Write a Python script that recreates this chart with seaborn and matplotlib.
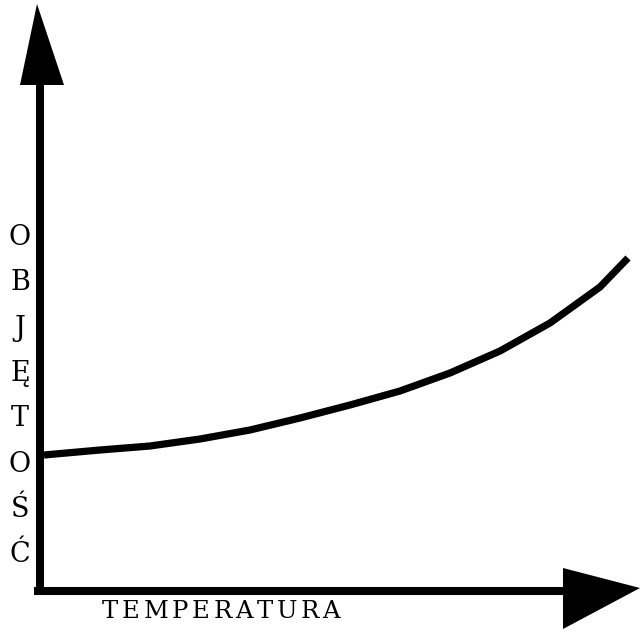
import matplotlib
matplotlib.use("Agg")
import matplotlib.pyplot as plt
import seaborn as sns
import pandas as pd

# Volume grows with temperature (arbitrary units)
temperature = [4, 60, 110, 160, 210, 260, 310, 360, 410, 460, 510, 560, 588]
volume = [136, 141, 145, 152, 161, 173, 186, 200, 218, 240, 268, 304, 333]
y_label = "OBJĘTOŚĆ"
x_label = "TEMPERATURA"

sns.set_theme(style="white")
plt.rcParams["font.family"] = ["DejaVu Serif"]

W, H = 641, 636
fig = plt.figure(figsize=(W / 100, H / 100), dpi=100)
ax = fig.add_axes([0, 0, 1, 1])
ax.set_xlim(-40, W - 40)
ax.set_ylim(-45, H - 45)
ax.axis("off")

df = pd.DataFrame({"temperatura": temperature, "objetosc": volume})
sns.lineplot(data=df, x="temperatura", y="objetosc", ax=ax, color="black",
             linewidth=5.2, solid_capstyle="butt", legend=False)

# hand-drawn style axes with filled arrow heads
lw = 5.8
ax.plot([0, 0], [-4, 510], color="black", linewidth=lw, solid_capstyle="butt")
ax.fill([-3, -20, 24], [587, 506, 506], color="black", lw=0)
ax.plot([-6, 526], [0, 0], color="black", linewidth=lw, solid_capstyle="butt")
ax.fill([523, 523, 600], [23, -38, 3], color="black", lw=0)

# vertical axis title, one letter per line
y_size = 19.5
for i, ch in enumerate(y_label):
    base = 245 + 45.3 * i
    ax.text(-20, 591 - base, ch, ha="center", va="baseline",
            fontsize=y_size, color="black")

# horizontal axis title, letter-spaced to its full width
fig.canvas.draw()
renderer = fig.canvas.get_renderer()
x_size = 17.5
widths = []
for ch in x_label:
    t = ax.text(0, 0, ch, fontsize=x_size)
    widths.append(t.get_window_extent(renderer).width)
    t.remove()
span = 238
gap = (span - sum(widths)) / (len(x_label) - 1)
x = 102 - 40
for ch, w in zip(x_label, widths):
    ax.text(x, 591 - 618, ch, ha="left", va="baseline",
            fontsize=x_size, color="black")
    x += w + gap

fig.savefig("out.png", dpi=100, facecolor="white")
